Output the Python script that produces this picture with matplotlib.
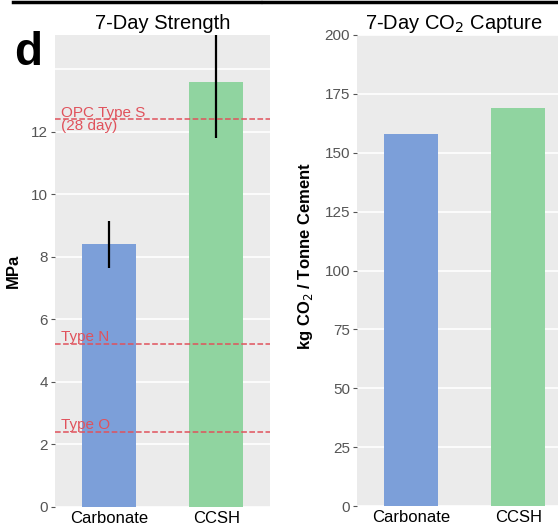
import matplotlib
matplotlib.use("Agg")
import matplotlib.pyplot as plt
from matplotlib.lines import Line2D

plt.rcParams['font.family'] = ['Liberation Sans', 'DejaVu Sans']

# dados
categorias = ['Carbonate', 'CCSH']
resistencia = [8.4, 13.6]          # MPa, 7 dias
erro_resistencia = [0.75, 1.8]
captura_co2 = [158, 169]           # kg CO2 / tonelada de cimento
cores = ['#7c9fd9', '#90d4a0']

# limites de referência (argamassa)
ref_valores = [12.4, 5.2, 2.4]
ref_textos = ['OPC Type S\n(28 day)', 'Type N', 'Type O']

fundo = '#ebebeb'
cinza = '#555555'
vermelho = '#e0525c'

fig = plt.figure(figsize=(5.58, 5.27), dpi=100)
ax1 = fig.add_axes([55/558, 20/527, 215/558, 472/527])
ax2 = fig.add_axes([357/558, 21/527, 215/558, 471/527])

def estilo(ax):
    ax.set_facecolor(fundo)
    for s in ax.spines.values():
        s.set_visible(False)
    ax.grid(True, axis='y', which='both', color='white', linewidth=1.2)
    ax.set_axisbelow(True)
    ax.tick_params(axis='y', colors=cinza, labelsize=11, length=3, pad=2)
    ax.tick_params(axis='y', which='minor', length=0)
    ax.tick_params(axis='x', length=0, labelsize=12, labelcolor='black', pad=3)
    ax.set_xlim(-0.5, 1.5)

# painel esquerdo: resistência
estilo(ax1)
x = range(len(categorias))
ax1.bar(x, resistencia, width=0.5, color=cores, zorder=2)
ax1.errorbar(x, resistencia, yerr=erro_resistencia, fmt='none',
             ecolor='black', elinewidth=1.6, capsize=0, zorder=3)
for v, t in zip(ref_valores, ref_textos):
    ax1.axhline(v, color=vermelho, linestyle='--', linewidth=1.1, zorder=4)
    if '\n' in t:
        ax1.text(-0.44, v, t, color=vermelho, fontsize=11, va='center',
                 ha='left', linespacing=0.95, zorder=5)
    else:
        ax1.text(-0.44, v, t, color=vermelho, fontsize=11, va='bottom',
                 ha='left', zorder=5)
ax1.set_ylim(0, 15.1)
ax1.set_yticks(range(0, 13, 2))
ax1.set_yticks([14], minor=True)
ax1.set_xticks(list(x))
ax1.set_xticklabels(categorias)
ax1.set_ylabel('MPa', fontsize=12, fontweight='bold')
ax1.yaxis.set_label_coords(-0.16, 0.50)
ax1.set_title('7-Day Strength', fontsize=14.5, pad=4)

# painel direito: captura de CO2
estilo(ax2)
ax2.bar(x, captura_co2, width=0.5, color=cores, zorder=2)
ax2.set_ylim(0, 200)
ax2.set_yticks(range(0, 201, 25))
ax2.set_xticks(list(x))
ax2.set_xticklabels(categorias)
ax2.set_ylabel('kg CO$_2$ / Tonne Cement', fontsize=12, fontweight='bold')
ax2.yaxis.set_label_coords(-0.195, 0.53)
ax2.set_title('7-Day CO$_2$ Capture', fontsize=14.5, pad=4, x=0.45)

# letra do painel e borda superior
fig.text(14/558, 1 - 65/527, 'd', fontsize=33, fontweight='bold', va='baseline')
fig.add_artist(Line2D([13/558, 260/558], [1 - 1.5/527] * 2, color='black', linewidth=2.5))
fig.add_artist(Line2D([263/558, 1], [1 - 1.5/527] * 2, color='black', linewidth=2.5))

fig.savefig('out.png', dpi=100)
